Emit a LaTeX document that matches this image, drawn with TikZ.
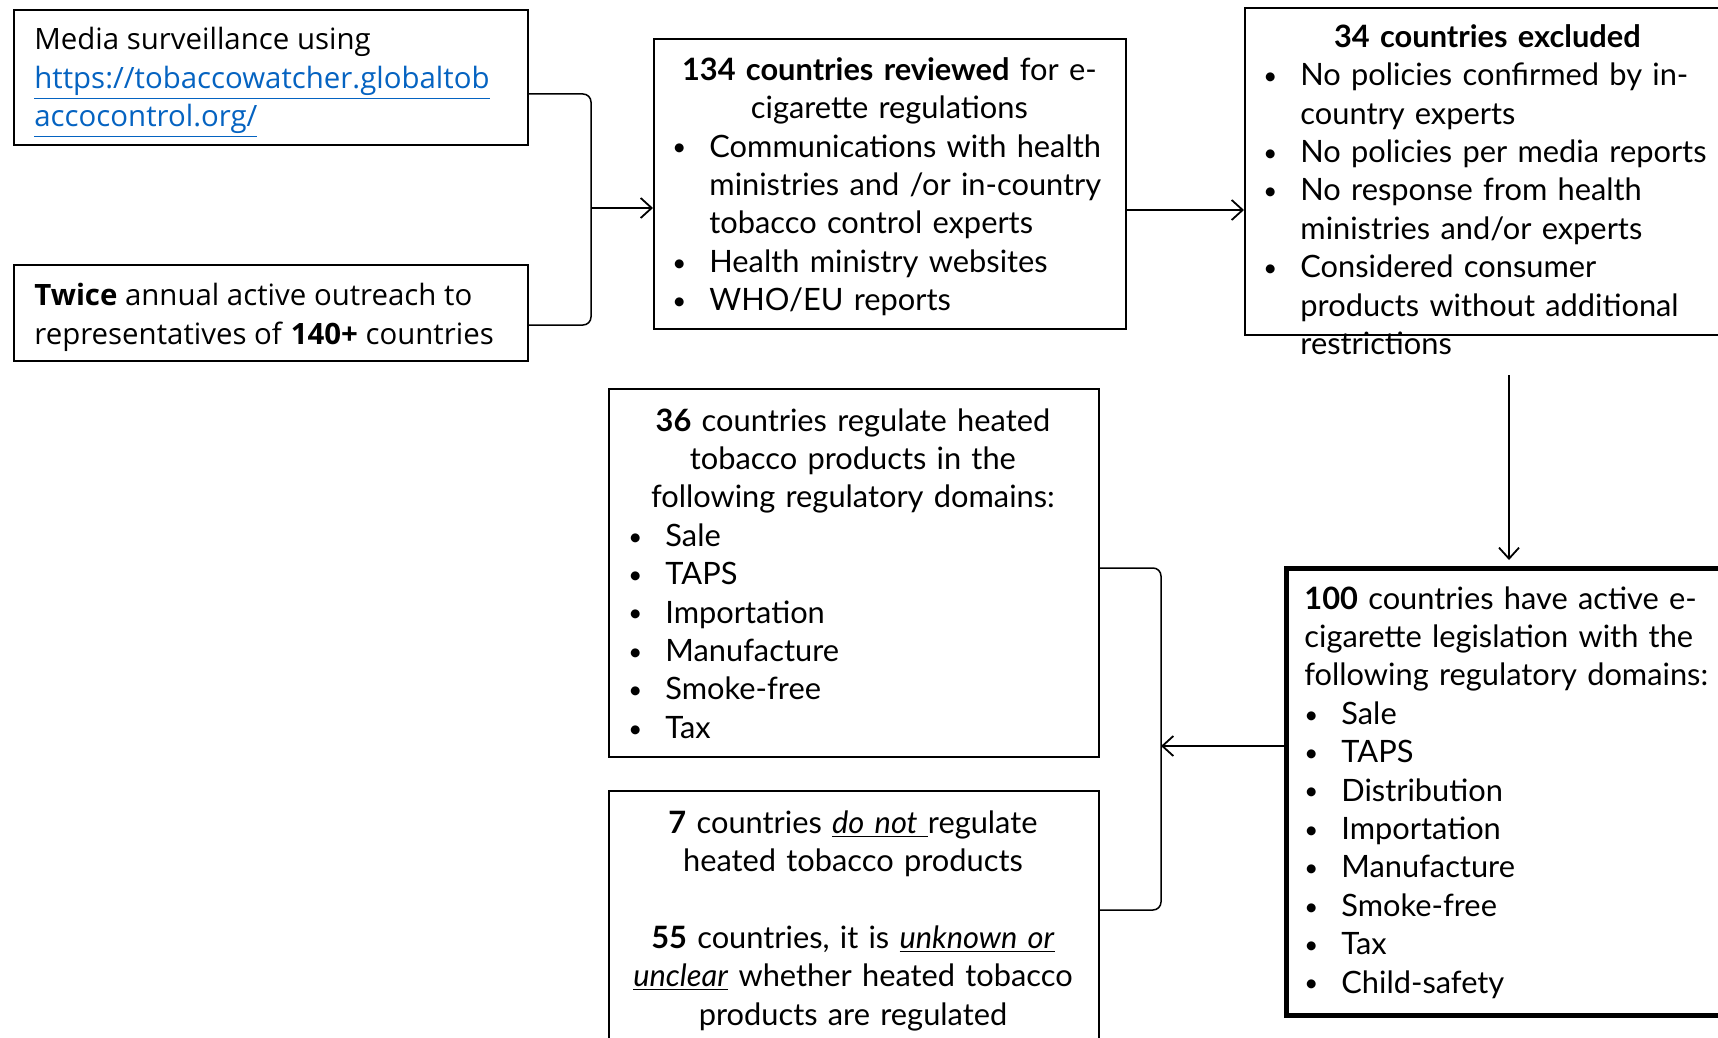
\documentclass[tikz,border=0pt]{standalone}
\usepackage{fontspec}
\setmainfont{Lato}
\newfontfamily\leftfont{Open Sans}
\usetikzlibrary{arrows.meta}
\definecolor{linkblue}{RGB}{5,99,193}
\newcommand\bul{\makebox[15.5pt][l]{\hspace*{-3pt}\raisebox{.6pt}{\fontsize{12pt}{12pt}\selectfont\textbullet}}}
\newcommand\cont{\hspace*{15.5pt}}
\newcommand\link[1]{\textcolor{linkblue}{\underline{#1}}}
\tikzset{
	box/.style={draw,line width=1pt,inner sep=0pt,anchor=north west},
	txt/.style={inner sep=0pt,align=left,anchor=north west,text width=260pt,font=\fontsize{15.4pt}{19.2pt}\selectfont},
	lefttxt/.style={inner sep=0pt,align=left,anchor=north west,font=\leftfont\fontsize{14.7pt}{19.2pt}\selectfont},
	bracket/.style={line width=.75pt,rounded corners=4pt},
	arr/.style={line width=.9pt,-{Straight Barb[length=5.5pt,width=10pt]}}
}
\begin{document}
\begin{tikzpicture}[x=.5pt,y=-.5pt]
	\useasboundingbox (0,0) rectangle (1718,1038);

	% sources
	\node[box,minimum width=257pt,minimum height=67.5pt] (media) at (13,9) {};
	\node[lefttxt] (mediaT) at (34,27) {Media surveillance using\\\link{https://tobaccowatcher.globaltob}\\\link{accocontrol.org/}};
	\node[box,minimum width=257pt,minimum height=48pt] (twice) at (13,264) {};
	\node[lefttxt] (twiceT) at (34,283) {\textbf{Twice} annual active outreach to\\representatives of \textbf{140+} countries};

	\node[box,minimum width=236pt,minimum height=145pt] (review) at (653,38) {};
	\node[txt] (reviewT) at (678,57) {\makebox[211pt]{\textbf{134 countries reviewed} for e-}\\\makebox[211pt]{cigarette regulations}\\
		\bul Communications with health\\\cont ministries and /or in-country\\\cont tobacco control experts\\
		\bul Health ministry websites\\
		\bul WHO/EU reports};

	\node[box,minimum width=243pt,minimum height=163.5pt] (excl) at (1244,7) {};
	\node[txt] (exclT) at (1269,24) {\makebox[218pt]{\textbf{34 countries excluded}}\\
		\bul No policies confirmed by in-\\\cont country experts\\
		\bul No policies per media reports\\
		\bul No response from health\\\cont ministries and/or experts\\
		\bul Considered consumer\\\cont products without additional\\\cont restrictions};

	\node[box,line width=2.5pt,minimum width=223pt,minimum height=223.5pt] (legis) at (1284,566) {};
	\node[txt] (legisT) at (1304,586) {\textbf{100} countries have active e-\\cigarette legislation with the\\following regulatory domains:\\
		\hspace*{3pt}\bul Sale\\\hspace*{3pt}\bul TAPS\\\hspace*{3pt}\bul Distribution\\\hspace*{3pt}\bul Importation\\
		\hspace*{3pt}\bul Manufacture\\\hspace*{3pt}\bul Smoke-free\\\hspace*{3pt}\bul Tax\\\hspace*{3pt}\bul Child-safety};

	% heated tobacco
	\node[box,minimum width=245pt,minimum height=184pt] (htp) at (608,388) {};
	\node[txt] (htpT) at (634,408) {\makebox[218.5pt]{\textbf{36} countries regulate heated}\\\makebox[218.5pt]{tobacco products in the}\\\makebox[218.5pt]{following regulatory domains:}\\
		\bul Sale\\\bul TAPS\\\bul Importation\\\bul Manufacture\\\bul Smoke-free\\\bul Tax};
	\node[box,minimum width=245pt,minimum height=130pt] (nohtp) at (608,790) {};
	\node[txt,anchor=north,align=center] (nohtpT) at (853,810) {\textbf{7} countries \underline{\textit{do not\ }}regulate\\heated tobacco products\\[19.2pt]
		\textbf{55} countries, it is \underline{\textit{unknown or}}\\\underline{\textit{unclear}} whether heated tobacco\\products are regulated};

	\coordinate (j1) at (591,208);
	\coordinate (b1) at (0,94);
	\coordinate (b2) at (0,325);
	\draw[bracket] (media.east |- b1) -| (j1) |- (twice.east |- b2);
	\draw[arr] (j1) -- (review.west |- j1);

	\coordinate (a2) at (0,210);
	\draw[arr] (review.east |- a2) -- (excl.west |- a2);

	\coordinate (a3) at (1509,375);
	\draw[arr,shorten >=3pt] (a3) -- (legis.north -| a3);

	\coordinate (j2) at (1161,746);
	\coordinate (b3) at (0,568);
	\coordinate (b4) at (0,910);
	\draw[bracket] (htp.east |- b3) -| (j2) |- (nohtp.east |- b4);
	\draw[arr] (legis.west |- j2) -- (j2);
\end{tikzpicture}
\end{document}
